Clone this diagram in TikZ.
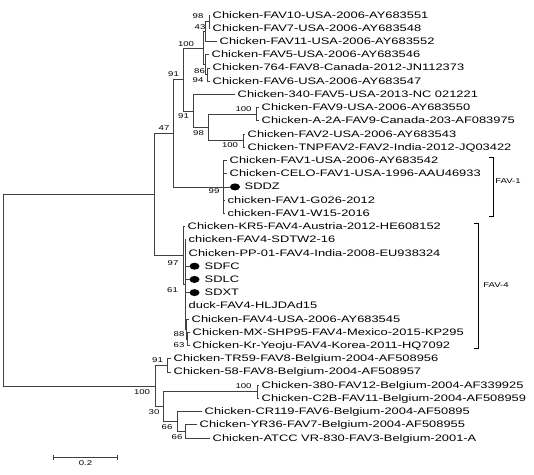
\documentclass[tikz,border=0pt]{standalone}
\usepackage{fontspec}
\usepackage{tikz}
\usetikzlibrary{shapes.geometric}
\newfontfamily\treefont[FakeStretch=1.37]{Liberation Sans}

\begin{document}
\begin{tikzpicture}[x=1pt, y=-1pt,
  leaf/.style={anchor=west, inner xsep=2.5pt, inner ysep=0.5pt, text height=7.5pt, text depth=1.5pt,
    font=\treefont\fontsize{9.4}{10}\selectfont},
  boot/.style={inner sep=0pt, font=\treefont\fontsize{7}{8}\selectfont},
  isol/.style={ellipse, fill=black, inner sep=0pt, minimum width=10pt, minimum height=7pt},
  branch/.style={black!75, line width=0.75pt, line cap=rect}]
  \useasboundingbox (0,0) rectangle (534,474);
  % ---------- LEAVES ----------
  \node[leaf] (t1) at (210,15.0) {Chicken-FAV10-USA-2006-AY683551};
  \node[leaf] (t2) at (210,28.2) {Chicken-FAV7-USA-2006-AY683548};
  \node[leaf] (t3) at (217,41.4) {Chicken-FAV11-USA-2006-AY683552};
  \node[leaf] (t4) at (209,54.7) {Chicken-FAV5-USA-2006-AY683546};
  \node[leaf] (t5) at (210,67.9) {Chicken-764-FAV8-Canada-2012-JN112373};
  \node[leaf] (t6) at (210,81.1) {Chicken-FAV6-USA-2006-AY683547};
  \node[leaf] (t7) at (235,94.3) {Chicken-340-FAV5-USA-2013-NC 021221};
  \node[leaf] (t8) at (259,107.5) {Chicken-FAV9-USA-2006-AY683550};
  \node[leaf] (t9) at (259,120.8) {Chicken-A-2A-FAV9-Canada-203-AF083975};
  \node[leaf] (t10) at (245,134.0) {Chicken-FAV2-USA-2006-AY683543};
  \node[leaf] (t11) at (245,147.2) {Chicken-TNPFAV2-FAV2-India-2012-JQ03422};
  \node[leaf] (t12) at (227,160.4) {Chicken-FAV1-USA-2006-AY683542};
  \node[leaf] (t13) at (227,173.6) {Chicken-CELO-FAV1-USA-1996-AAU46933};
  \node[isol] (d14) at (235,186.9) {};
  \node[leaf] (t14) at (242,186.9) {SDDZ};
  \node[leaf] (t15) at (225,200.1) {chicken-FAV1-G026-2012};
  \node[leaf] (t16) at (225,213.3) {chicken-FAV1-W15-2016};
  \node[leaf] (t17) at (185,226.5) {Chicken-KR5-FAV4-Austria-2012-HE608152};
  \node[leaf] (t18) at (186,239.7) {chicken-FAV4-SDTW2-16};
  \node[leaf] (t19) at (186,253.0) {Chicken-PP-01-FAV4-India-2008-EU938324};
  \node[isol] (d20) at (194.5,266.2) {};
  \node[leaf] (t20) at (202,266.2) {SDFC};
  \node[isol] (d21) at (194.5,279.4) {};
  \node[leaf] (t21) at (202,279.4) {SDLC};
  \node[isol] (d22) at (194.5,292.6) {};
  \node[leaf] (t22) at (202,292.6) {SDXT};
  \node[leaf] (t23) at (186,305.8) {duck-FAV4-HLJDAd15};
  \node[leaf] (t24) at (189,319.0) {Chicken-FAV4-USA-2006-AY683545};
  \node[leaf] (t25) at (190,332.3) {Chicken-MX-SHP95-FAV4-Mexico-2015-KP295};
  \node[leaf] (t26) at (190,345.5) {Chicken-Kr-Yeoju-FAV4-Korea-2011-HQ7092};
  \node[leaf] (t27) at (171,358.7) {Chicken-TR59-FAV8-Belgium-2004-AF508956};
  \node[leaf] (t28) at (171,371.9) {Chicken-58-FAV8-Belgium-2004-AF508957};
  \node[leaf] (t29) at (259,385.1) {Chicken-380-FAV12-Belgium-2004-AF339925};
  \node[leaf] (t30) at (259,398.4) {Chicken-C2B-FAV11-Belgium-2004-AF508959};
  \node[leaf] (t31) at (202,411.6) {Chicken-CR119-FAV6-Belgium-2004-AF50895};
  \node[leaf] (t32) at (197,424.8) {Chicken-YR36-FAV7-Belgium-2004-AF508955};
  \node[leaf] (t33) at (210,438.0) {Chicken-ATCC VR-830-FAV3-Belgium-2001-A};
  % ---------- INTERNAL NODES ----------
  \coordinate (a98) at (209,21.6);
  \coordinate (b43) at (205.5,31.5);
  \coordinate (d94) at (207,74.5);
  \coordinate (c86) at (205,64.6);
  \coordinate (g100) at (203,48.1);
  \coordinate (e100) at (256,114.2);
  \coordinate (f100) at (243,140.6);
  \coordinate (d98) at (208,127.4);
  \coordinate (c91) at (193,110.9);
  \coordinate (b91) at (183,79.5);
  \coordinate (h99) at (223,186.9);
  \coordinate (a47) at (173,133.2);
  \coordinate (i63) at (187.5,338.9);
  \coordinate (h88) at (186.5,329.0);
  \coordinate (g61) at (185,284.3);
  \coordinate (f97) at (183,255.4);
  \coordinate (n47) at (154,194.3);
  \coordinate (j91) at (167,365.3);
  \coordinate (k100) at (257,391.8);
  \coordinate (m66) at (185,431.4);
  \coordinate (l66) at (177,421.5);
  \coordinate (p30) at (163,406.7);
  \coordinate (q100) at (155,386.0);
  \coordinate (root) at (3,290.2);
  % ---------- BRANCHES ----------
  \foreach \p/\c in {a98/t1.west, a98/t2.west, b43/a98, b43/t3.west, d94/t5.west, d94/t6.west,
      c86/t4.west, c86/d94, g100/b43, g100/c86, e100/t8.west, e100/t9.west, f100/t10.west,
      f100/t11.west, d98/e100, d98/f100, c91/t7.west, c91/d98, b91/g100, b91/c91,
      h99/t12.west, h99/t13.west, h99/d14.west, h99/t15.west, h99/t16.west, a47/b91, a47/h99,
      i63/t25.west, i63/t26.west, h88/t24.west, h88/i63, g61/t18.west, g61/t19.west,
      g61/d20.west, g61/d21.west, g61/d22.west, g61/t23.west, g61/h88, f97/t17.west, f97/g61,
      n47/a47, n47/f97, j91/t27.west, j91/t28.west, k100/t29.west, k100/t30.west,
      m66/t32.west, m66/t33.west, l66/t31.west, l66/m66, p30/k100, p30/l66,
      q100/j91, q100/p30, root/n47, root/q100}
    \draw[branch] (\p) |- (\c);
  % ---------- BOOTSTRAP ----------
  \foreach \nm/\x/\y/\v in {sa/198/16.5/98, sb/200/27.5/43, sg/186/44.5/100, sc/199.5/71/86,
      sd/198/80.5/94, sbb/173.5/74.5/91, se/243.5/109.5/100, scc/183.5/116.5/91,
      sdd/198.5/133.5/98, sf/230/145.5/100, sn/164/128.5/47, sh/214/191.5/99,
      sfv/173/263.5/97, sgg/172.5/290.5/61, shh/179/334.5/88, si/179/345.5/63,
      sj/157.5/360/91, sk/243.5/386.5/100, sq/142/392/100, sp/154/412/30,
      sl/167/427.5/66, sm/177/437.5/66}
    \node[boot] (\nm) at (\x,\y) {\v};
  % ---------- GROUPS ----------
  \draw[line width=0.6pt] (489,157) -- (493,157) -- (493,216) -- (489,216);
  \node[boot] (fav1) at (508,181) {FAV-1};
  \draw[line width=0.6pt] (474,223) -- (478,223) -- (478,348) -- (474,348);
  \node[boot] (fav4) at (496,285) {FAV-4};
  % ---------- SCALE ----------
  \coordinate (s0) at (53,457.5);
  \coordinate (s1) at (117,457.5);
  \draw[branch, line cap=butt] (s0) -- (s1);
  \draw[branch, line cap=butt] (53,455) -- (53,460) (117,455) -- (117,460);
  \node[boot] (sbar) at (85.5,463.5) {0.2};
\end{tikzpicture}
\end{document}
